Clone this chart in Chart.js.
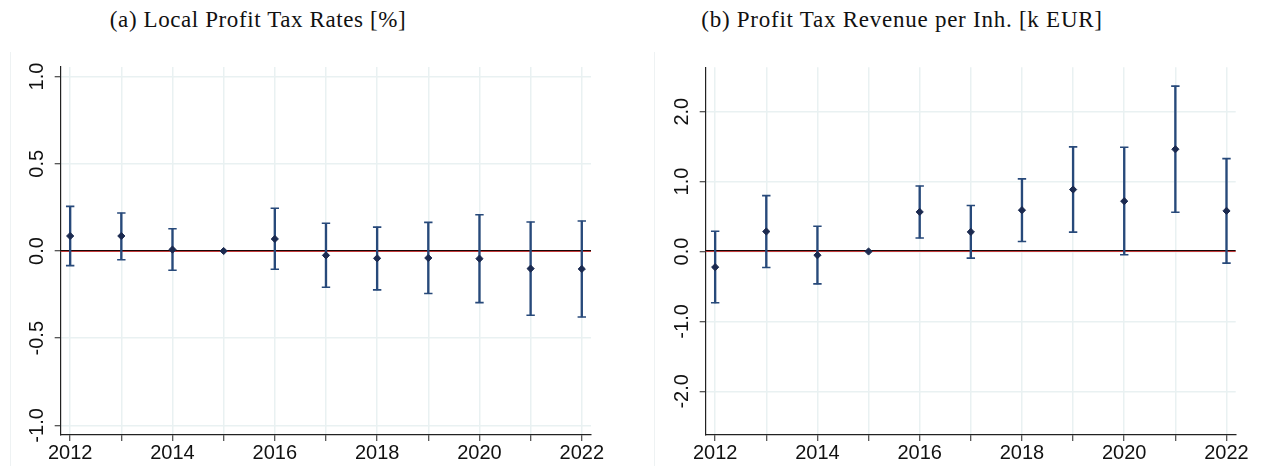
<!DOCTYPE html>
<html lang="en">
<head>
<meta charset="UTF-8">
<title>Event study: profit tax rates and revenue</title>
<script src="https://cdn.jsdelivr.net/npm/chart.js"></script>
<style>
    body {
        margin: 0;
        background: #fff;
    }
    #wrap {
        position: relative;
        width: 1261px;
        height: 466px;
        overflow: hidden;
    }
    .title {
        position: absolute;
        top: 8px;
        text-align: center;
        font-family: 'Liberation Serif', 'Times New Roman', serif;
        font-size: 23px;
        line-height: 23px;
        letter-spacing: 0.6px;
        color: #111;
        white-space: nowrap;
    }
    .edge {
        position: absolute;
        top: 52px;
        bottom: 0;
        width: 0;
        border-left: 1px solid #eef2f3;
    }
    .panel {
        position: absolute;
        top: 0;
        height: 466px;
    }
</style>
</head>
<body>
<div id="wrap">
    <div class="title" style="left:0;width:516px">(a) Local Profit Tax Rates [%]</div>
    <div class="title" style="left:652px;width:500px;letter-spacing:0.75px">(b) Profit Tax Revenue per Inh. [k EUR]</div>
    <div class="edge" style="left:10px"></div>
    <div class="edge" style="left:654px"></div>
    <div class="panel" style="left:0;width:620px"><canvas id="rates"></canvas></div>
    <div class="panel" style="left:640px;width:621px"><canvas id="revenue"></canvas></div>
</div>

<script>
    // event years, 2015 is the reference year (no interval)
    const years = [2012, 2013, 2014, 2015, 2016, 2017, 2018, 2019, 2020, 2021, 2022];

    // (a) local profit tax rates
    const rateCoef  = [0.086, 0.086, 0.008, 0, 0.069, -0.025, -0.042, -0.040, -0.044, -0.101, -0.103];
    const rateLower = [-0.084, -0.050, -0.110, null, -0.105, -0.208, -0.223, -0.244, -0.296, -0.368, -0.378];
    const rateUpper = [0.256, 0.218, 0.128, null, 0.245, 0.159, 0.137, 0.164, 0.208, 0.166, 0.172];
    const rateTicks = [-1.0, -0.5, 0.0, 0.5, 1.0];

    // (b) profit tax revenue per inhabitant
    const revCoef  = [-0.224, 0.286, -0.053, 0, 0.566, 0.280, 0.591, 0.886, 0.720, 1.463, 0.581];
    const revLower = [-0.734, -0.229, -0.463, null, 0.194, -0.095, 0.143, 0.277, -0.047, 0.562, -0.166];
    const revUpper = [0.290, 0.800, 0.361, null, 0.937, 0.657, 1.039, 1.496, 1.491, 2.366, 1.329];
    const revTicks = [-2.0, -1.0, 0.0, 1.0, 2.0];

    const barColor = '#27497a';
    const dotColor = '#1b2a50';
    const gridColor = '#e9f1f2';
    const axisColor = '#222';

    const zeroLine = {
        id: 'zeroLine',
        beforeDatasetsDraw(chart) {
            const ctx = chart.ctx;
            const area = chart.chartArea;
            const y0 = Math.round(chart.scales.y.getPixelForValue(0));
            ctx.save();
            ctx.fillStyle = '#c23b3b';
            ctx.fillRect(area.left, y0, area.right - area.left, 1);
            ctx.fillStyle = '#1a0505';
            ctx.fillRect(area.left, y0 - 1, area.right - area.left, 1);
            ctx.restore();
        }
    };

    function makeChart(id, coef, lower, upper, ticks, yLim, axisWidth, pad) {
        const bars = [], caps = [], dots = [];
        years.forEach((yr, i) => {
            dots.push({ x: yr, y: coef[i] });
            if (lower[i] === null) return;
            bars.push({ x: yr, y: [lower[i], upper[i]] });
            caps.push({ x: yr, y: lower[i] });
            caps.push({ x: yr, y: upper[i] });
        });

        return new Chart(document.getElementById(id), {
            type: 'bar',
            data: {
                datasets: [
                    {
                        data: bars,
                        backgroundColor: barColor,
                        borderWidth: 0,
                        barThickness: 1.7,
                        order: 2
                    },
                    {
                        type: 'scatter',
                        data: caps,
                        pointStyle: 'line',
                        pointRadius: 4.2,
                        borderColor: barColor,
                        borderWidth: 1.6,
                        order: 1
                    },
                    {
                        type: 'scatter',
                        data: dots,
                        pointStyle: 'rectRot',
                        pointRadius: 3.6,
                        backgroundColor: dotColor,
                        borderColor: dotColor,
                        borderWidth: 1,
                        order: 0
                    }
                ]
            },
            options: {
                responsive: true,
                maintainAspectRatio: false,
                animation: false,
                layout: { padding: pad },
                plugins: {
                    legend: { display: false },
                    tooltip: { enabled: false }
                },
                scales: {
                    x: {
                        type: 'linear',
                        offset: false,
                        min: 2011.815,
                        max: 2022.18,
                        afterFit(s) { s.height = 31; },
                        grid: {
                            offset: false,
                            color: gridColor,
                            lineWidth: 1.5,
                            tickColor: axisColor,
                            tickLength: 6,
                            tickWidth: 1
                        },
                        border: { color: axisColor, width: 1.2 },
                        ticks: {
                            stepSize: 1,
                            autoSkip: false,
                            includeBounds: false,
                            maxRotation: 0,
                            padding: 0,
                            color: '#111',
                            font: { family: "'Liberation Sans', Arial, sans-serif", size: 20 },
                            callback: v => (v % 2 === 0 ? String(v) : '')
                        }
                    },
                    y: {
                        min: yLim[0],
                        max: yLim[1],
                        afterFit(s) { s.width = axisWidth; },
                        afterBuildTicks(s) { s.ticks = ticks.map(v => ({ value: v })); },
                        grid: {
                            color: gridColor,
                            lineWidth: 1.5,
                            tickColor: axisColor,
                            tickLength: 6,
                            tickWidth: 1
                        },
                        border: { color: axisColor, width: 1.2 },
                        ticks: {
                            minRotation: 90,
                            maxRotation: 90,
                            crossAlign: 'center',
                            padding: 0,
                            color: '#111',
                            font: { family: "'Liberation Sans', Arial, sans-serif", size: 20 },
                            callback: v => v.toFixed(1)
                        }
                    }
                }
            },
            plugins: [zeroLine]
        });
    }

    makeChart('rates', rateCoef, rateLower, rateUpper, rateTicks, [-1.055, 1.055], 60.7,
        { left: 0, top: 67, right: 29, bottom: 0 });
    makeChart('revenue', revCoef, revLower, revUpper, revTicks, [-2.625, 2.635], 65.7,
        { left: 0, top: 67.3, right: 25.3, bottom: 0 });
</script>
</body>
</html>
